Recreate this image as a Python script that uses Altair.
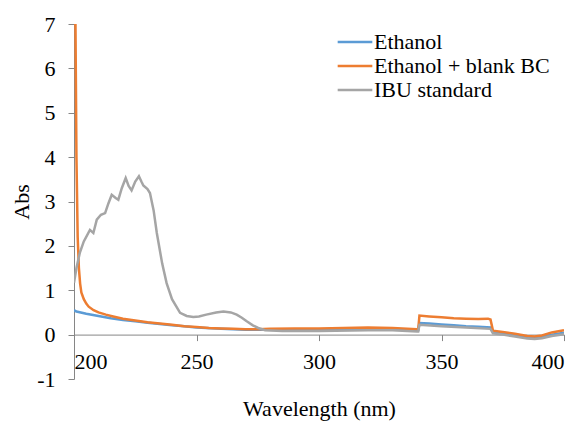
import altair as alt
import pandas as pd

series_names = ["Ethanol", "Ethanol + blank BC", "IBU standard"]
colors = ["#5B9BD5", "#ED7D31", "#A5A5A5"]

eth_wl = [200, 201, 205, 210, 215, 220, 225, 230, 235, 240, 245, 250, 260, 270, 280, 290, 300, 310, 320, 330, 340, 340.5, 341, 345, 350, 355, 360, 365, 370, 371, 375, 380, 385, 388, 391, 395, 400]
eth_abs = [0.55, 0.52, 0.47, 0.42, 0.37, 0.33, 0.30, 0.27, 0.24, 0.21, 0.19, 0.16, 0.13, 0.11, 0.11, 0.12, 0.12, 0.13, 0.14, 0.13, 0.10, 0.10, 0.26, 0.25, 0.23, 0.21, 0.19, 0.18, 0.16, 0.06, 0.03, -0.02, -0.06, -0.07, -0.05, 0.0, 0.04]

bc_wl = [200, 200.6, 201, 201.5, 202, 202.5, 203, 204, 205, 206, 208, 210, 213, 216, 220, 225, 230, 235, 240, 245, 250, 255, 260, 265, 270, 275, 280, 290, 300, 310, 320, 330, 340, 340.5, 341, 345, 350, 355, 360, 365, 369, 370, 371, 375, 380, 385, 388, 391, 395, 400]
bc_abs = [7.0, 7.0, 4.0, 2.2, 1.5, 1.15, 0.95, 0.80, 0.70, 0.63, 0.55, 0.50, 0.45, 0.41, 0.36, 0.32, 0.28, 0.25, 0.22, 0.19, 0.17, 0.15, 0.14, 0.13, 0.12, 0.12, 0.13, 0.14, 0.14, 0.15, 0.16, 0.15, 0.12, 0.12, 0.43, 0.41, 0.39, 0.37, 0.36, 0.35, 0.36, 0.34, 0.09, 0.06, 0.02, -0.03, -0.04, -0.02, 0.05, 0.10]

ibu_wl = [200, 201, 202.4, 204, 206.5, 207.9, 209.3, 211, 212.7, 214, 215.4, 217, 218.1, 219.5, 221.1, 222.3, 223.5, 225, 226.5, 227.5, 228.3, 230, 231, 232.5, 233.8, 236, 237.8, 240, 243.3, 246, 248.7, 251, 254, 258, 261, 264, 266.4, 268.5, 270.5, 273, 275.2, 278, 285, 300, 320, 330, 340, 340.5, 341, 350, 360, 370, 371, 375, 380, 385, 388, 391, 395, 400]
ibu_abs = [1.17, 1.5, 1.85, 2.1, 2.36, 2.29, 2.59, 2.7, 2.74, 2.95, 3.15, 3.08, 3.04, 3.3, 3.53, 3.35, 3.25, 3.45, 3.57, 3.45, 3.36, 3.28, 3.19, 2.8, 2.29, 1.6, 1.16, 0.8, 0.49, 0.42, 0.40, 0.41, 0.45, 0.50, 0.52, 0.50, 0.45, 0.38, 0.30, 0.21, 0.15, 0.10, 0.08, 0.08, 0.10, 0.10, 0.07, 0.07, 0.22, 0.19, 0.16, 0.13, 0.03, 0.0, -0.04, -0.09, -0.10, -0.08, -0.03, 0.01]

x_ticks = [200, 250, 300, 350, 400]
y_ticks = [-1, 0, 1, 2, 3, 4, 5, 6, 7]

rows = []
for name, wl, ab, k in [(series_names[0], eth_wl, eth_abs, 0), (series_names[1], bc_wl, bc_abs, 1), (series_names[2], ibu_wl, ibu_abs, 2)]:
    for i, (w, a) in enumerate(zip(wl, ab)):
        rows.append({"Series": name, "wl": w, "abs": a, "k": k, "i": i})
df = pd.DataFrame(rows)

FONT = "Liberation Serif"
FS = 22

chart = alt.Chart(df).mark_line(strokeWidth=2.5, clip=True).encode(
    x=alt.X("wl:Q", scale=alt.Scale(domain=[200, 400], nice=False),
            axis=alt.Axis(title="Wavelength  (nm)", values=x_ticks, offset=-44.4,
                          grid=False, domainColor="#868686", tickColor="#868686",
                          tickSize=6, labelFont=FONT, labelFontSize=FS, labelColor="black",
                          labelPadding=11, titleFont=FONT, titleFontSize=FS,
                          titleFontWeight="normal", titleColor="black", titlePadding=26)),
    y=alt.Y("abs:Q", scale=alt.Scale(domain=[-1, 7], nice=False),
            axis=alt.Axis(title="Abs", values=y_ticks, grid=False, domainColor="#868686",
                          tickColor="#868686", tickSize=6, labelFont=FONT, labelFontSize=FS,
                          labelColor="black", labelPadding=13, titleFont=FONT, titleFontSize=FS,
                          titleFontWeight="normal", titleColor="black", titlePadding=3,
                          labelExpr="'' + datum.value")),
    color=alt.Color("Series:N", scale=alt.Scale(domain=series_names, range=colors),
                    legend=alt.Legend(title=None, orient="none", legendX=262, legendY=6,
                                      symbolType="stroke", symbolSize=1200,
                                      symbolStrokeWidth=2.5, labelFont=FONT,
                                      labelFontSize=FS, labelColor="black", labelLimit=300,
                                      clipHeight=24, rowPadding=0, labelOffset=0)),
    detail="k:N",
    order="i:Q",
).properties(
    width=490, height=355,
    padding={"left": 74, "top": 24, "right": 20, "bottom": 42},
    autosize=alt.AutoSizeParams(type="none"),
).configure_view(stroke=None)

chart.save("out.html", embed_options={"renderer": "svg", "actions": False})
